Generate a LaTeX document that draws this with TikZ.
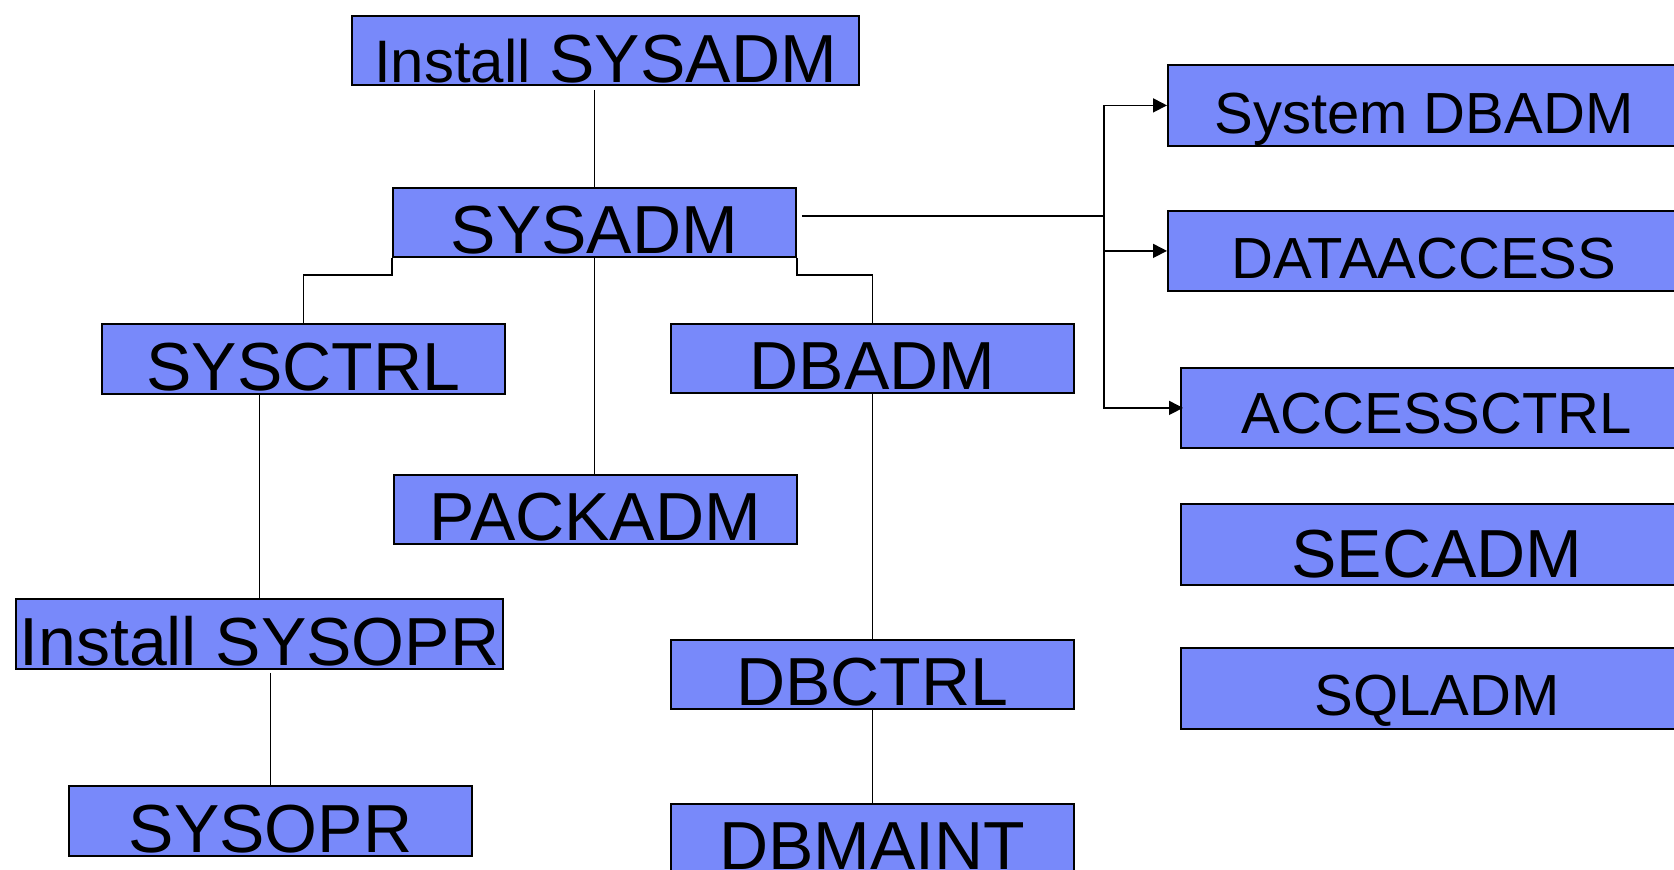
\documentclass[tikz,border=0pt]{standalone}
\usepackage{fontspec}
\setmainfont{Liberation Sans}
\usetikzlibrary{arrows.meta}
\definecolor{boxblue}{RGB}{120,137,250}
\tikzset{
  box/.style={draw=black, line width=1.8pt, fill=boxblue, inner xsep=0pt, inner ysep=0pt,
    anchor=north west, font=\fontsize{68}{70}\selectfont},
  bigbox/.style={box, font=\fontsize{58}{60}\selectfont},
  link/.style={draw=black, line width=1.7pt},
  arr/.style={link, -{Triangle[length=14pt,width=14pt]}}
}
\begin{document}
\begin{tikzpicture}[x=1pt,y=-1pt]
\clip (0,0) rectangle (1674,870);
\fill[white] (0,0) rectangle (1674,870);
% left tree
\node[box, minimum width=507pt, text height=66.7pt, text depth=2.3pt] (instsysadm) at (351,15) {{\fontsize{60}{62}\selectfont Install} SYSADM};
\node[box, minimum width=403pt, text height=66pt, text depth=3pt] (sysadm) at (392,187) {SYSADM};
\node[box, minimum width=403pt, text height=67pt, text depth=3pt] (sysctrl) at (101,323) {SYSCTRL};
\node[box, minimum width=403pt, text height=66pt, text depth=3pt] (dbadm) at (670,323) {DBADM};
\node[box, minimum width=403pt, text height=66pt, text depth=3pt] (packadm) at (393,474) {PACKADM};
\node[box, minimum width=487pt, text height=67pt, text depth=3pt] (instsysopr) at (15,598) {Install SYSOPR};
\node[box, minimum width=403pt, text height=67pt, text depth=3pt] (sysopr) at (68,785) {SYSOPR};
\node[box, minimum width=403pt, text height=66pt, text depth=3pt] (dbctrl) at (670,639) {DBCTRL};
\node[box, minimum width=403pt, text height=66pt, text depth=4pt] (dbmaint) at (670,803) {DBMAINT};
% right column
\node[bigbox, minimum width=512pt, text height=68.7pt, text depth=12.3pt] (sysdbadm) at (1167,64) {System DBADM};
\node[bigbox, minimum width=512pt, text height=68pt, text depth=12pt] (dataaccess) at (1167,210) {DATAACCESS};
\node[bigbox, minimum width=512pt, text height=66pt, text depth=14pt] (accessctrl) at (1180,367) {ACCESSCTRL};
\node[box, minimum width=512pt, text height=74pt, text depth=7pt] (secadm) at (1180,503) {SECADM};
\node[bigbox, minimum width=512pt, text height=68pt, text depth=13pt] (sqladm) at (1180,647) {SQLADM};
% connectors
\path[link] ([yshift=-4pt]sysadm.north |- instsysadm.south) -- (sysadm.north);
\path[link] (sysadm.south west) -- ++(0,17) -| (sysctrl.north);
\path[link] (sysadm.south east) -- ++(0,17) -| (dbadm.north);
\path[link] (sysadm.south) -- (sysadm.south |- packadm.north);
\path[link] (instsysopr.north |- sysctrl.south) -- (instsysopr.north);
\path[link] ([yshift=-3pt]sysopr.north |- instsysopr.south) -- (sysopr.north);
\path[link] (dbadm.south) -- (dbctrl.north);
\path[link] (dbctrl.south) -- (dbmaint.north);
\coordinate (split) at (1104,216);
\path[link] ([xshift=5pt]sysadm.east |- split) -- (split);
\path[arr] (split) |- (sysdbadm.west);
\path[arr] (split |- dataaccess.west) -- (dataaccess.west);
\path[arr, shorten >=-3pt] (split) |- (accessctrl.west);
\end{tikzpicture}
\end{document}
